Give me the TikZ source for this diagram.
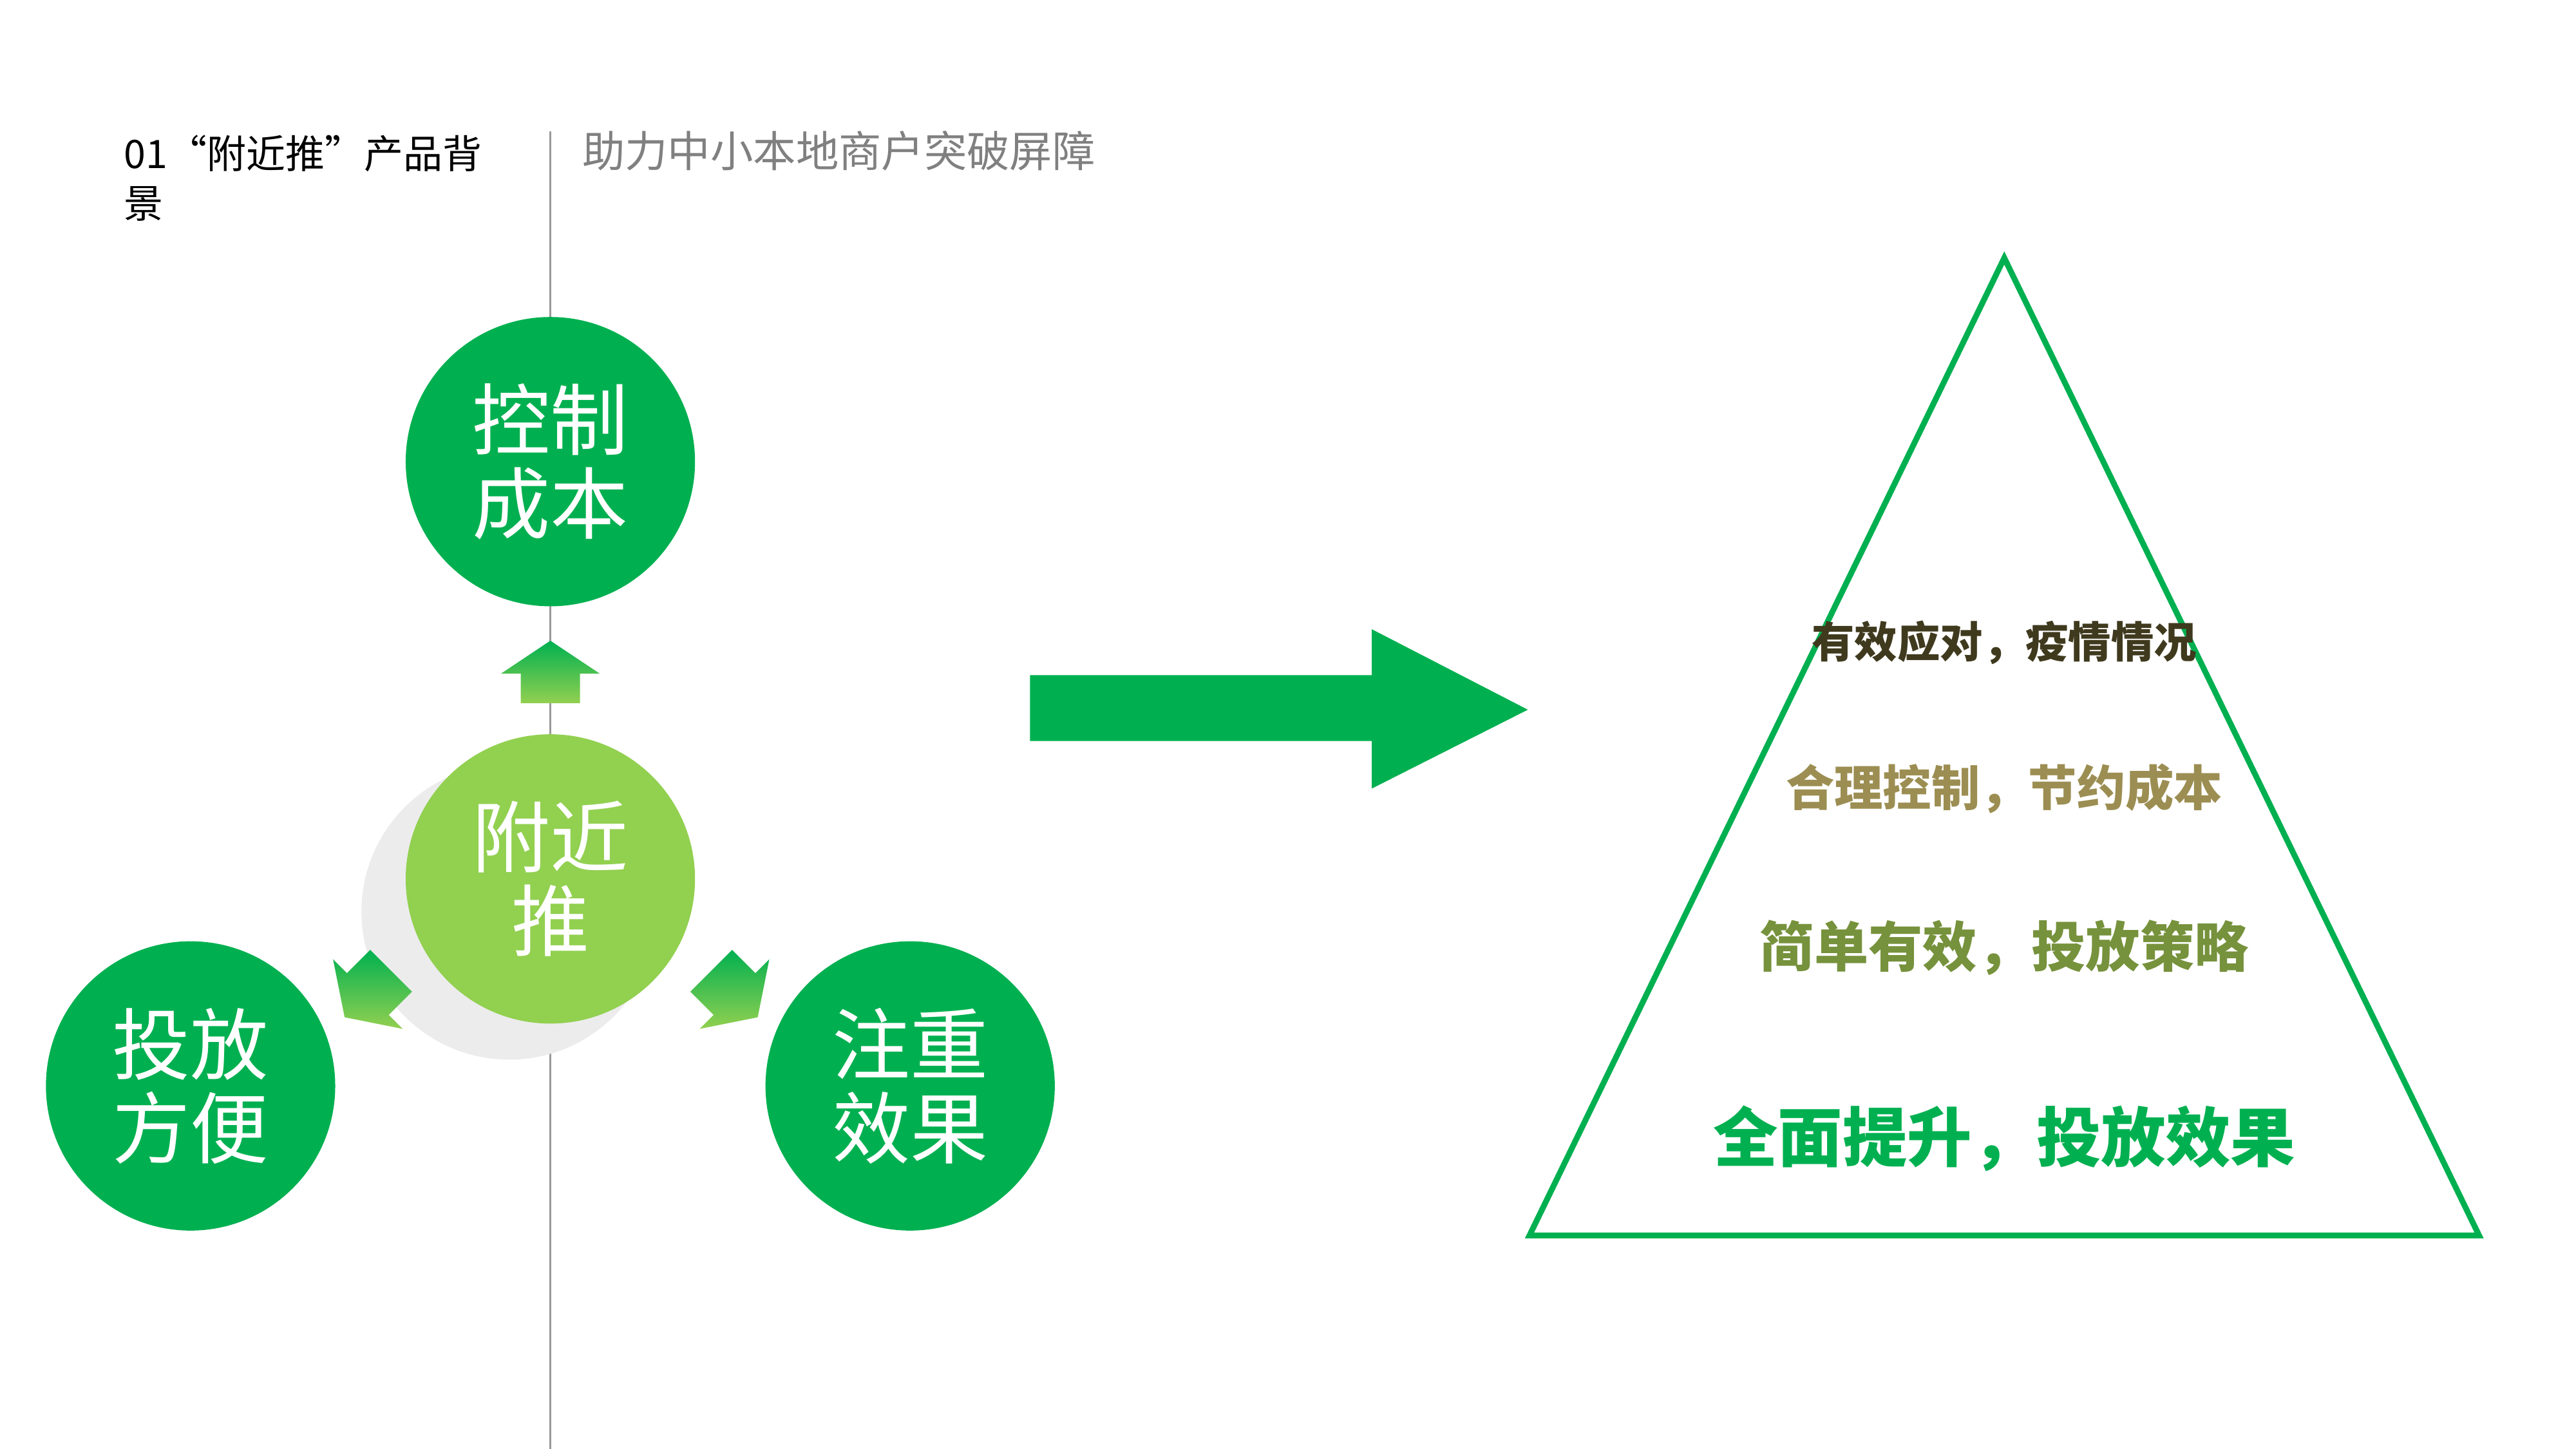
\documentclass[tikz,border=0pt]{standalone}
\usepackage{fontspec}
\setmainfont{Noto Sans CJK SC}
\newfontfamily\cjk{Noto Sans CJK SC}
\definecolor{gA}{HTML}{00B050}
\definecolor{gB}{HTML}{92D050}
\definecolor{tA}{HTML}{3F3A1E}
\definecolor{tB}{HTML}{9C8E52}
\definecolor{tC}{HTML}{76923C}
\tikzset{
 big/.style={circle,fill=gA,minimum size=1.76cm,inner sep=0pt,text=white,font=\cjk\fontsize{13.5}{14.5}\selectfont,align=center},
 lvl/.style={font=\cjk\bfseries\fontsize{7.4}{8}\selectfont,anchor=center}
}
\begin{document}
\begin{tikzpicture}[x=0.01cm,y=-0.01cm]
\useasboundingbox (0,0) rectangle (1568,882);
\fill[white] (0,0) rectangle (1568,882);
\draw[gray!80,line width=0.4pt] (335,80) -- (335,882);
\node[font=\cjk\fontsize{6.8}{8.5}\selectfont,align=left,anchor=north west] (hd) at (63,70) {01“附近推”产品背\\景};
\node[anchor=west,font=\cjk\fontsize{7.4}{8}\selectfont,text=gray] (sub) at (342,92) {助力中小本地商户突破屏障};
\fill[gray!15] (310,555) circle (90);
\node[big] (top) at (335,281) {控制\\成本};
\node[big,fill=gB] (mid) at (335,535) {附近\\推};
\node[big] (lft) at (116,661) {投放\\方便};
\node[big] (rgt) at (554,661) {注重\\效果};
% small arrows
\shade[top color=gA,bottom color=gB] (305,410) -- (335,390) -- (365,410) -- (353,410) -- (353,428) -- (317,428) -- (317,410) -- cycle;
\begin{scope}[shift={(231,598)},rotate=135]
\shade[top color=gA,bottom color=gB] (-30,-10) -- (0,-30) -- (30,-10) -- (18,-10) -- (18,10) -- (-18,10) -- (-18,-10) -- cycle;
\end{scope}
\begin{scope}[shift={(440,598)},rotate=-135]
\shade[top color=gA,bottom color=gB] (-30,-10) -- (0,-30) -- (30,-10) -- (18,-10) -- (18,10) -- (-18,10) -- (-18,-10) -- cycle;
\end{scope}
% big arrow
\fill[gA] (627,411) -- (835,411) -- (835,383) -- (930,432) -- (835,480) -- (835,451) -- (627,451) -- cycle;
% triangle
\coordinate (apex) at (1220,157);
\coordinate (bl) at (931,752);
\coordinate (br) at (1509,752);
\draw[gA,line width=1pt] (apex) -- (br) -- (bl) -- cycle;
\node[lvl,text=tA] (l1) at (1220,391) {有效应对，疫情情况};
\node[lvl,text=tB,font=\cjk\bfseries\fontsize{8.4}{9}\selectfont] (l2) at (1220,480) {合理控制，节约成本};
\node[lvl,text=tC,font=\cjk\bfseries\fontsize{9.4}{10}\selectfont] (l3) at (1220,577) {简单有效，投放策略};
\node[lvl,text=gA,font=\cjk\bfseries\fontsize{11.2}{12}\selectfont] (l4) at (1220,693) {全面提升，投放效果};
\end{tikzpicture}
\end{document}
